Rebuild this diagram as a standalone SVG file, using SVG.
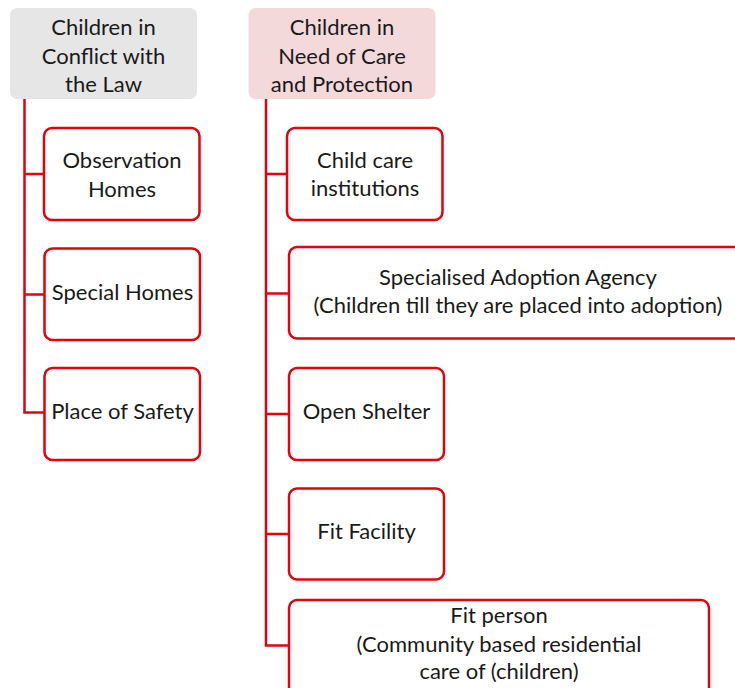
<svg xmlns="http://www.w3.org/2000/svg" width="735" height="688" viewBox="0 0 735 688">
<style>
text{font-family:Lato,"Open Sans","Liberation Sans",sans-serif;font-size:22px;fill:#1a1a1a;text-anchor:middle}
.box{fill:#ffffff;stroke:#e3000f;stroke-width:2.5}
.conn{fill:none;stroke:#e3000f;stroke-width:2.5}
</style>
<rect width="735" height="688" fill="#ffffff"/>
<g id="connectors">
<path class="conn" d="M24.5,99 V412.5 H44 M24.5,174 H44 M24.5,294.5 H44"/>
<path class="conn" d="M266,99 V645.5 H289 M266,174 H287 M266,293.5 H289 M266,414 H289 M266,534 H289"/>
</g>
<g id="parent-cicl">
<rect x="10" y="8" width="187" height="91" rx="7" fill="#e6e6e6"/>
<text x="103.5" y="35">Children in</text>
<text x="103.5" y="63.5">Conflict with</text>
<text x="103.5" y="92">the Law</text>
</g>
<g id="parent-cncp">
<rect x="248.5" y="8" width="187" height="91" rx="7" fill="#f4d9db"/>
<text x="342" y="35">Children in</text>
<text x="342" y="63.5">Need of Care</text>
<text x="342" y="92">and Protection</text>
</g>
<g id="observation-homes">
<rect class="box" x="44" y="128" width="155.5" height="92" rx="8"/>
<text x="122" y="167.5">Observation</text>
<text x="122" y="196.5">Homes</text>
</g>
<g id="special-homes">
<rect class="box" x="44.5" y="248.5" width="155.5" height="91.5" rx="8"/>
<text x="122.5" y="300">Special Homes</text>
</g>
<g id="place-of-safety">
<rect class="box" x="44.5" y="368" width="155.5" height="92" rx="8"/>
<text x="122.5" y="419">Place of Safety</text>
</g>
<g id="child-care-institutions">
<rect class="box" x="287" y="128" width="155.5" height="92" rx="8"/>
<text x="365" y="167.5">Child care</text>
<text x="365" y="196">institutions</text>
</g>
<g id="specialised-adoption-agency">
<rect class="box" x="289" y="247" width="458" height="91.5" rx="8"/>
<text x="518" y="285">Specialised Adoption Agency</text>
<text x="518" y="313">(Children till they are placed into adoption)</text>
</g>
<g id="open-shelter">
<rect class="box" x="289" y="368" width="155" height="92" rx="8"/>
<text x="366.5" y="418.5">Open Shelter</text>
</g>
<g id="fit-facility">
<rect class="box" x="289" y="488.5" width="155" height="91" rx="8"/>
<text x="366.5" y="539">Fit Facility</text>
</g>
<g id="fit-person">
<rect class="box" x="289" y="600" width="420" height="100" rx="8"/>
<text x="499" y="623">Fit person</text>
<text x="499" y="651.5">(Community based residential</text>
<text x="499" y="679">care of (children)</text>
</g>
</svg>
